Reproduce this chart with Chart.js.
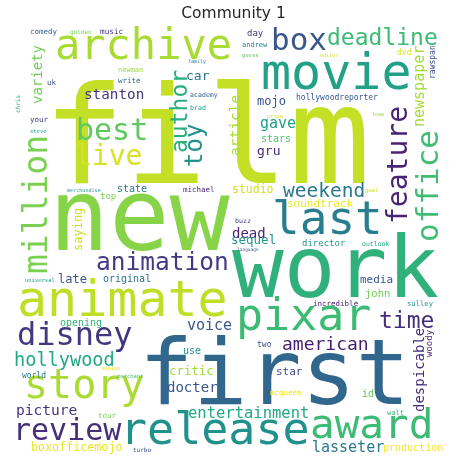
<!DOCTYPE html>
<html>
<head>
<meta charset="utf-8">
<script src="https://cdn.jsdelivr.net/npm/chart.js@4"></script>
<style>
  html, body { margin: 0; padding: 0; background: #ffffff; }
  #wrap { width: 467px; height: 470px; }
</style>
</head>
<body>
<div id="wrap"><canvas id="c" width="467" height="470"></canvas></div>
<script>
// Word cloud data: word, weight (font size), layout position, orientation, colour value (viridis 0..1)
const words = ["film","new","work","first","animate","movie","archive","last","pixar","release",
  "award","story","million","office","disney","review","box","best","feature","live",
  "deadline","time","animation","toy","author","weekend","hollywood","american","entertainment","voice",
  "lasseter","newspaper","gave","picture","article","stanton","despicable","docter","dead","variety",
  "car","gru","sequel","critic","late","saying","mojo","boxofficemojo","studio","soundtrack",
  "media","star","john","id","original","opening","state","production","use","stars",
  "top","director","woody","music","day","world","two","dvd","hollywoodreporter","rawspan",
  "comedy","write","uk","your","michael","incredible","mcqueen","tour","sulley","newman",
  "andrew","walt","academy","brad","buzz","outlook","turbo","golden","steve","guess",
  "goal","universal","prize","merchandise","family","editor","team","minion","language","chris",
  "merchant"];
const weights = [136,100,86,90,50,50,42,46,45,45,
  41,40,33,31,32,30,31,30,28,28,
  23,23,24.5,24,23,19.5,18.6,18,15.5,15,
  15,15,15,14.5,14.5,14.3,14,14,14,14,
  13,13,12.5,12.4,12,12,12,11.7,11.5,11,
  11,11,10.5,10,10,10,10,10,10,10,
  9,9,9,7.7,9,8,8,8,8,8,
  7.5,7.5,7.5,7.5,7.5,7.5,7.5,7.5,7.2,7,
  7,7,6.6,6.6,6.6,6.5,6,6,5.5,5.5,
  5.5,5.5,5.3,5.1,5,5,5,5,4.5,6,
  5.5];
const xPos = [55,58,232,147,20,263,57,275,240,127,
  312,28,47,438,18,18,273,78,407,77,
  328,380,97,202,187,283,15,283,188,187,
  313,424,260,17,240,85,424,167,232,42,
  187,257,232,170,58,82,257,32,233,288,
  360,277,365,362,103,60,118,383,183,262,
  100,302,432,100,247,22,257,397,296,435,
  30,118,47,30,183,313,270,98,407,118,
  242,387,190,190,235,362,133,70,30,242,
  365,25,267,67,188,320,372,102,237,20,
  117];
const yPos = [183,250,297,404,316,89,59,234,330,444,
  438,398,273,240,345,440,50,140,222,165,
  45,328,270,166,152,197,366,350,418,330,
  452,126,128,415,156,99,412,392,238,104,
  80,155,244,375,283,250,105,451,193,207,
  283,375,297,397,282,326,192,451,354,142,
  199,246,357,34,36,378,347,55,100,78,
  34,83,85,122,192,306,395,418,306,72,
  47,415,97,110,223,246,452,34,133,57,
  192,282,118,192,63,57,116,370,251,113,
  378];
const vertical = [0,0,0,0,0,0,0,0,0,0,
  0,0,1,1,0,0,0,0,1,0,
  0,0,0,1,1,0,0,0,0,0,
  0,1,0,0,1,0,1,0,0,1,
  0,0,0,0,0,1,0,0,0,0,
  0,0,0,0,0,0,0,0,0,0,
  0,0,1,0,0,0,0,0,0,1,
  0,0,0,0,0,0,0,0,0,0,
  0,0,0,0,0,0,0,0,0,0,
  0,0,0,0,0,0,0,0,0,1,
  0];
const shade = [0.91,0.82,0.64,0.33,0.90,0.57,0.87,0.42,0.68,0.50,
  0.68,0.87,0.80,0.69,0.16,0.13,0.27,0.75,0.10,0.94,
  0.68,0.13,0.17,0.50,0.63,0.40,0.60,0.08,0.60,0.27,
  0.40,0.86,0.55,0.15,0.87,0.15,0.13,0.27,0.10,0.78,
  0.38,0.12,0.52,0.86,0.27,0.92,0.25,0.97,0.93,0.97,
  0.27,0.22,0.78,0.75,0.38,0.65,0.40,0.99,0.50,0.72,
  0.80,0.52,0.10,0.15,0.15,0.40,0.25,0.95,0.28,0.25,
  0.30,0.35,0.25,0.20,0.12,0.10,0.97,0.80,0.50,0.85,
  0.45,0.65,0.30,0.55,0.20,0.60,0.25,0.80,0.55,0.75,
  0.93,0.55,0.95,0.50,0.40,0.93,0.85,0.95,0.30,0.60,
  0.70];

const viridisStops = ["#440154","#482475","#414487","#355f8d","#2a788e","#21918c",
  "#22a884","#44bf70","#7ad151","#bddf26","#fde725"];
function viridis(t) {
  t = Math.max(0, Math.min(1, t));
  const p = t * (viridisStops.length - 1);
  const i = Math.min(Math.floor(p), viridisStops.length - 2);
  const f = p - i;
  const a = viridisStops[i], b = viridisStops[i + 1];
  const ch = (h, k) => parseInt(h.substr(1 + 2 * k, 2), 16);
  const c = [0, 1, 2].map(k => Math.round(ch(a, k) + (ch(b, k) - ch(a, k)) * f));
  return "rgb(" + c.join(",") + ")";
}

const points = words.map((w, i) => ({ x: xPos[i], y: yPos[i] }));

const wordPlugin = {
  id: "wordcloud",
  afterDatasetsDraw(chart) {
    const ctx = chart.ctx;
    const meta = chart.getDatasetMeta(0);
    const xs = chart.scales.x, ys = chart.scales.y;
    const k = Math.abs(ys.getPixelForValue(100) - ys.getPixelForValue(0)) / 100;
    ctx.save();
    meta.data.forEach((el, i) => {
      const size = weights[i] * k;
      ctx.font = size + "px 'DejaVu Sans Mono'";
      ctx.fillStyle = viridis(shade[i]);
      ctx.textAlign = "left";
      ctx.textBaseline = "alphabetic";
      const m = ctx.measureText(words[i]);
      ctx.save();
      ctx.translate(el.x, el.y);
      if (vertical[i]) ctx.rotate(-Math.PI / 2);
      ctx.fillText(words[i], m.actualBoundingBoxLeft, 0);
      ctx.restore();
    });
    ctx.restore();
  }
};

new Chart(document.getElementById("c"), {
  type: "scatter",
  data: { datasets: [{ data: points, pointRadius: 0, pointHoverRadius: 0 }] },
  options: {
    responsive: false,
    animation: false,
    events: [],
    layout: { padding: 0 },
    plugins: {
      legend: { display: false },
      tooltip: { enabled: false },
      title: {
        display: true,
        text: "Community 1",
        color: "#262626",
        font: { family: "'DejaVu Sans'", size: 15.5, weight: "normal" },
        padding: { top: 5, bottom: 4.4 }
      }
    },
    scales: {
      x: { type: "linear", min: 0, max: 467, display: false },
      y: { type: "linear", min: 28, max: 470, reverse: true, display: false }
    }
  },
  plugins: [wordPlugin]
});
</script>
</body>
</html>
